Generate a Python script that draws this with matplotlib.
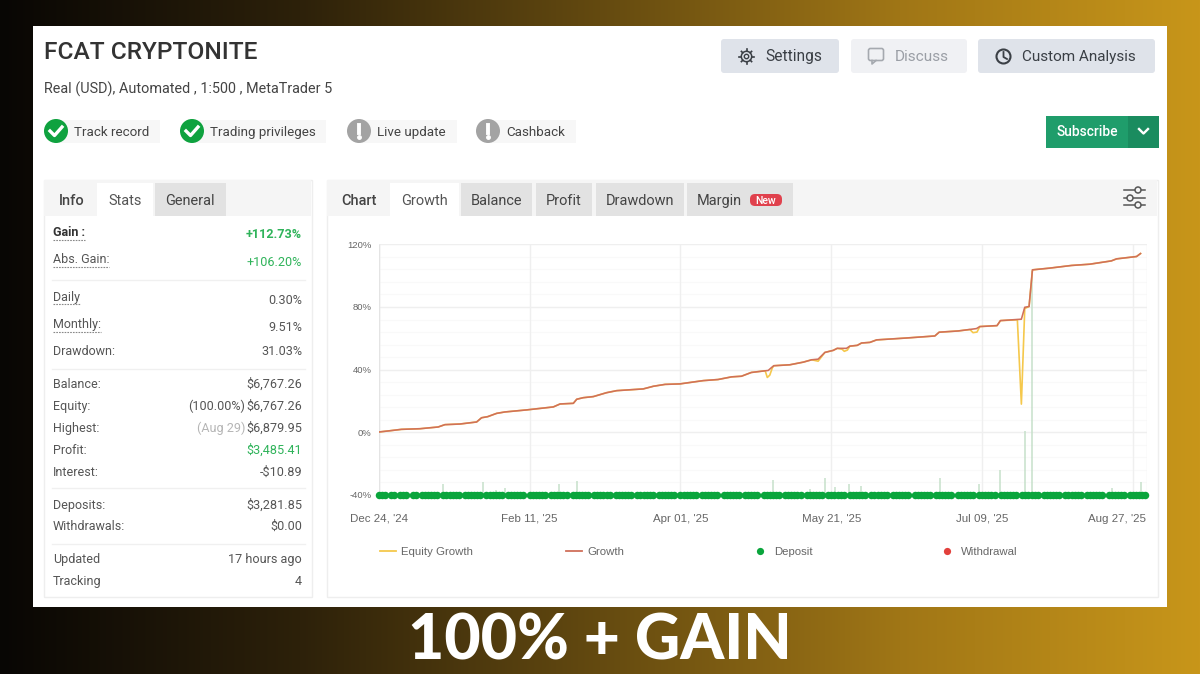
import numpy as np
import matplotlib
matplotlib.use("Agg")
import matplotlib.pyplot as plt
from matplotlib.patches import Rectangle, FancyBboxPatch, Circle
from matplotlib.transforms import ScaledTranslation

# chart data, x in days since Dec 24 '24
growth_days = [0, 3.6, 7.4, 13.4, 19.3, 21.5, 26.4, 31.8, 33.4, 35.4, 38.3, 41, 48, 56.7, 58.9, 63.2, 64.3,
               66.4, 69.7, 74, 77.3, 85.9, 89.2, 93, 97.8, 105.4, 110.2, 114.6, 117.8, 121, 126.5, 127.6,
               128.3, 133.5, 137.9, 140.6, 142.7, 144.9, 147.6, 148.9, 151.9, 153, 155.4, 156.8, 159.5,
               161.7, 171.4, 180.6, 182, 188.2, 194.1, 195.2, 200.8, 201.9, 208.7, 209.8, 211.2, 212.3,
               217.9, 225, 230.9, 237.9, 239.6, 246.1, 247.4]
growth_pct = [0.2, 1, 1.9, 2.3, 3.4, 4.9, 5.3, 6.6, 9.3, 10, 12.1, 13, 14.3, 16.2, 18.1, 18.5, 21.1,
              22.1, 22.8, 25.3, 26.6, 27.7, 29.4, 30.6, 30.9, 33, 33.7, 35.4, 35.8, 38.2, 39.5, 41.4,
              42.5, 43.1, 44.8, 46.3, 46.7, 51, 52.3, 53.6, 53.6, 55, 55.5, 57, 57.4,
              59, 60.2, 61.5, 63.9, 64.7, 66.2, 67.5, 68.1, 71.3, 72.2, 79.8, 80.3, 103.7,
              104.8, 106.5, 107.3, 109.4, 110.7, 112.2, 114.1]

# equity sits on the growth line apart from a few dips
equity_days = [0, 3.6, 7.4, 13.4, 19.3, 21.5, 26.4, 31.8, 33.4, 35.4, 38.3, 41, 48, 56.7, 58.9, 63.2, 64.3,
               66.4, 69.7, 74, 77.3, 85.9, 89.2, 93, 97.8, 105.4, 110.2, 114.6, 117.8, 121, 125.5, 126.2, 127,
               127.8, 128.3, 133.5, 137.9, 140.6, 142.7, 144.9, 147.6, 148.9, 150.5, 151.2, 152.2, 153, 155.4,
               156.8, 159.5, 161.7, 171.4, 180.6, 182, 188.2, 192, 193, 194.3, 195.2, 200.8, 201.9, 207.4,
               208.7, 209.8, 211.2, 212.3, 217.9, 225, 230.9, 237.9, 239.6, 246.1, 247.4]
equity_pct = [0.2, 1, 1.9, 2.3, 3.4, 4.9, 5.3, 6.6, 9.3, 10, 12.1, 13, 14.3, 16.2, 18.1, 18.5, 21.1,
              22.1, 22.8, 25.3, 26.6, 27.7, 29.4, 30.6, 30.9, 33, 33.7, 35.4, 35.8, 38.2, 39.3, 35, 36.5,
              41, 42.5, 43.1, 44.8, 46.3, 45.4, 51, 52.3, 53.6, 53, 51.7, 52.5, 55, 55.5,
              57, 57.4, 59, 60.2, 61.5, 63.9, 64.7, 65.6, 63.6, 64, 67.5, 68.1, 71.3, 71.8,
              18, 79, 80.3, 103.7, 104.8, 106.5, 107.3, 109.4, 110.7, 112.2, 114.1]

bar_days = [21, 33.9, 38, 41, 58.5, 64.4, 128.2, 140, 144.8, 148.2, 152.8, 156.5, 182.2, 194.8, 201.9, 209.9, 212.3, 238, 247.4]
bar_pct = [-33, -32, -36.9, -35.8, -33, -31.1, -30.5, -36.4, -29.4, -34.7, -33.2, -34.1, -29.4, -33, -24, 0.8, 103, -35.8, -31.9]

# days with no deposit marker, these make the pinches in the green band
no_deposit_days = [3, 6, 10, 13, 20, 27, 34, 41, 48, 55, 62, 69, 76, 83, 90, 97, 104, 111, 118, 124, 131, 138,
                   145, 152, 159, 166, 173, 180, 187, 194, 201, 208, 215, 222, 229, 236, 243]
deposit_days = [d for d in range(0, 250) if d not in no_deposit_days]

x_tick_days = [0, 49, 98, 147, 196, 245]
x_tick_labels = ["Dec 24, '24", "Feb 11, '25", "Apr 01, '25", "May 21, '25", "Jul 09, '25", "Aug 27, '25"]
y_ticks = [-40, 0, 40, 80, 120]
y_minor = [-32, -24, -16, -8, 8, 16, 24, 32, 48, 56, 64, 72, 88, 96, 104, 112]

# left panel rows
stat_labels = ["Gain :", "Abs. Gain:", "Daily", "Monthly:", "Drawdown:", "Balance:", "Equity:", "Highest:",
               "Profit:", "Interest:", "Deposits:", "Withdrawals:", "Updated", "Tracking"]
stat_values = ["+112.73%", "+106.20%", "0.30%", "9.51%", "31.03%", "$6,767.26", "$6,767.26", "$6,879.95",
               "$3,485.41", "-$10.89", "$3,281.85", "$0.00", "17 hours ago", "4"]
stat_y = [232, 259, 297, 324, 351, 384, 406, 428, 450, 472, 505, 526, 559, 581]
value_y = [234, 262, 300, 327, 351, 384, 406, 428, 450, 472, 505, 526, 559, 581]
sep_y = [280, 369, 488, 544]

W, H = 1200, 674
plt.rcParams['font.family'] = ['Roboto', 'DejaVu Sans']
fig = plt.figure(figsize=(W / 100, H / 100), dpi=100)

ui = fig.add_axes([0, 0, 1, 1])
ui.set_xlim(0, W)
ui.set_ylim(H, 0)
ui.axis("off")


def fs(px):
    return px * 0.72


def box(x0, y0, x1, y1, color, ec="none", z=1, ax=ui):
    ax.add_patch(Rectangle((x0, y0), x1 - x0, y1 - y0, fc=color, ec=ec, lw=1, zorder=z))


def rbox(x0, y0, x1, y1, color, r=3, z=1):
    ui.add_patch(FancyBboxPatch((x0 + r, y0 + r), x1 - x0 - 2 * r, y1 - y0 - 2 * r,
                                boxstyle="round,pad=%d,rounding_size=%d" % (r, r), fc=color, ec="none", zorder=z))


def txt(x, y, s, px=14, color="#444444", ha="left", weight="normal", **kw):
    # baseline so rows with and without descenders line up
    ui.text(x, y + 0.5 + 0.35 * px, s, fontsize=fs(px), color=color, ha=ha, va="baseline", fontweight=weight, zorder=5, **kw)


# background strip, black to gold
stops = np.array([[8, 6, 4], [45, 33, 10], [100, 74, 16], [160, 118, 22], [200, 150, 26]]) / 255
pos = np.linspace(0, 1, W)
grad = np.stack([np.interp(pos, np.linspace(0, 1, 5), stops[:, i]) for i in range(3)], axis=1)[None, :, :]
ui.imshow(grad, extent=(0, W, H, 0), aspect="auto", zorder=0)
ui.set_xlim(0, W)
ui.set_ylim(H, 0)
box(33, 26, 1167, 607, "white")

txt(44, 49.5, "FCAT CRYPTONITE", px=24.5, color="#333333", weight="medium")
txt(44, 88.5, "Real (USD), Automated , 1:500 , MetaTrader 5", px=14.4, color="#444444")

# top right buttons
rbox(721, 39, 839, 73, "#dfe3ea")
rbox(851, 39, 967, 73, "#f0f1f4")
rbox(978, 39, 1155, 73, "#dfe3ea")
txt(765, 55.5, "Settings", px=15.5, color="#3a3f45")
txt(895, 55.5, "Discuss", px=15.4, color="#9a9ea5")
txt(1022, 55.5, "Custom Analysis", px=15.3, color="#3a3f45")
ui.add_patch(Circle((746.5, 56.5), 5.2, fc="none", ec="#3a3f45", lw=1.1, zorder=5))
ui.add_patch(Circle((746.5, 56.5), 2.2, fc="none", ec="#3a3f45", lw=1, zorder=5))
for a in np.deg2rad([0, 45, 90, 135, 180, 225, 270, 315]):
    ui.plot([746.5 + 5.2 * np.cos(a), 746.5 + 7.2 * np.cos(a)], [56.5 + 5.2 * np.sin(a), 56.5 + 7.2 * np.sin(a)],
            color="#3a3f45", lw=1.2, zorder=5)
ui.add_patch(FancyBboxPatch((870, 50), 12, 9, boxstyle="round,pad=1.5,rounding_size=2", fc="none", ec="#a5a9af", lw=1.2, zorder=5))
ui.plot([872, 872, 876], [60.5, 64, 60.5], color="#a5a9af", lw=1.2, zorder=5)
ui.add_patch(Circle((1003.5, 56.5), 7, fc="none", ec="#3a3f45", lw=1.5, zorder=5))
ui.plot([1003.5, 1003.5, 1007], [52, 57, 59], color="#3a3f45", lw=1.3, zorder=5)

# subscribe
box(1046, 116, 1159, 148, "#1f9d6b")
box(1128, 116, 1159, 148, "#1a8c5f", z=2)
txt(1087, 131, "Subscribe", px=13.7, color="white", ha="center", weight="medium")
ui.plot([1139, 1143.5, 1148], [129, 133.5, 129], color="white", lw=1.7, zorder=5)

# status badges
badge_text = ["Track record", "Trading privileges", "Live update", "Cashback"]
badge_x = [56, 192, 359, 488]
badge_end = [160, 326, 457, 576]
badge_ok = [True, True, False, False]
for t, x, end, ok in zip(badge_text, badge_x, badge_end, badge_ok):
    box(x, 120, end, 143, "#f7f7f7")
    ui.add_patch(Circle((x, 131), 12, fc="#0fa23f" if ok else "#a3a3a3", ec="none", zorder=3))
    if ok:
        ui.plot([x - 6, x - 1.5, x + 6], [131, 135.5, 127], color="white", lw=2.4, zorder=4)
    else:
        ui.plot([x, x], [125, 133], color="white", lw=2.8, zorder=4)
        ui.plot([x], [137], "o", color="white", ms=2.5, zorder=4)
    txt(x + 18, 130.5, t, px=13.4, color="#444444")

# left panel
box(43.5, 179.5, 311.5, 596.5, "white", ec="#eeeeee")
box(44, 180, 311, 216, "#f5f5f5", z=2)
box(97, 183, 153, 217, "white", z=3)
box(155, 183, 226, 216, "#e2e2e2", z=3)
txt(72, 199, "Info", px=14.5, ha="center", weight="medium", color="#444444")
txt(125, 199, "Stats", px=14.5, ha="center", color="#555555")
txt(190, 199, "General", px=14.5, ha="center", color="#444444")

for lab, val, y, vy in zip(stat_labels, stat_values, stat_y, value_y):
    bold = lab.startswith("Gain")
    txt(53, y - 1, lab, px=12.5, weight="bold" if bold else "normal", color="#333333" if bold else "#555555")
    col = "#555555"
    if val.startswith("+") or lab == "Profit:":
        col = "#2fb35a"
    txt(302, vy - 1, val, px=12.6, ha="right", color=col, weight="bold" if bold else "normal")
txt(245, 405, "(100.00%)", px=12.6, ha="right", color="#555555")
txt(245, 427, "(Aug 29)", px=12.6, ha="right", color="#b5b5b5")

for y, x1 in zip([240, 267, 304, 332], [85, 109, 80, 101]):
    ui.plot([53, x1], [y, y], color="#888888", lw=0.8, ls=(0, (1.5, 1)), zorder=4)
for y in sep_y:
    ui.plot([52, 305], [y, y], color="#f0f0f0", lw=1, zorder=2)

# right panel
box(326.5, 179.5, 1158, 596.5, "white", ec="#eeeeee")
box(327, 180, 1157, 216, "#f5f5f5", z=2)
txt(359, 199, "Chart", px=14.5, ha="center", weight="medium", color="#444444")
box(390, 183, 459, 217, "white", z=3)
txt(424, 199, "Growth", px=14.5, ha="center", color="#555555")
for x0, x1, t in [(461, 532, "Balance"), (536, 592, "Profit"), (596, 684, "Drawdown")]:
    box(x0, 183, x1, 216, "#e2e2e2", z=3)
    txt((x0 + x1) / 2, 199, t, px=14.5, ha="center", color="#444444")
box(687, 183, 793, 216, "#e2e2e2", z=3)
txt(697, 199, "Margin", px=14.5, color="#444444")
rbox(750, 194, 782, 206, "#e0414d", r=5, z=4)
txt(766, 199.5, "New", px=10.5, ha="center", color="white", weight="medium")

# filter icon
for y, cx in zip([190, 198, 205], [1138, 1130, 1138]):
    ui.plot([1124, 1145], [y, y], color="#555555", lw=1.1, zorder=4)
    ui.add_patch(Circle((cx, y), 3, fc="#f5f5f5", ec="#555555", lw=1.1, zorder=5))

# growth chart
ax = fig.add_axes([378.7 / W, 1 - 495 / H, (1146.7 - 378.7) / W, (495 - 244.3) / H])
ax.patch.set_alpha(0)
ax.set_zorder(3)
ax.set_xlim(0, 249.4)
ax.set_ylim(-40, 120)
for s in ax.spines.values():
    s.set_visible(False)
ax.hlines(y_minor, 0, 249.4, color="#f9f9f9", lw=0.9, zorder=1)
ax.hlines(y_ticks, 0, 249.4, color="#efefef", lw=1, zorder=1)
ax.vlines(x_tick_days + [249.4], -40, 120, color="#efefef", lw=1, zorder=1)
ax.vlines([0], -40, 120, color="#e4e4e4", lw=1, zorder=1)
ax.vlines(bar_days, -40, bar_pct, color="#c6e0ca", lw=1.1, zorder=2)
ax.plot(equity_days, equity_pct, color="#f5c84c", lw=1.2, zorder=3)
ax.plot(growth_days, growth_pct, color="#d0705a", lw=1.15, zorder=4)
ax.plot(deposit_days, [-40] * len(deposit_days), "o", color="#0aa53c", ms=5.4, mew=0, zorder=5, clip_on=False)

ax.set_yticks(y_ticks, [str(v) + "%" for v in y_ticks], fontsize=fs(9.5), color="#666666", family="Liberation Sans")
ax.set_xticks(x_tick_days, x_tick_labels, fontsize=fs(11.5), color="#666666", family="Liberation Sans")
ax.tick_params(length=0, axis="y", pad=5)
ax.tick_params(length=0, axis="x", pad=13.5)
last = ax.get_xticklabels()[-1]
last.set_transform(last.get_transform() + ScaledTranslation(-16 / 100, 0, fig.dpi_scale_trans))

# legend row
legend_x = [380, 566, 753, 940]
legend_text = ["Equity Growth", "Growth", "Deposit", "Withdrawal"]
legend_col = ["#f5c84c", "#d0705a", "#0aa53c", "#e2403c"]
for i, (x, t, c) in enumerate(zip(legend_x, legend_text, legend_col)):
    if i < 2:
        ui.plot([x, x + 16], [551, 551], color=c, lw=1.3, zorder=5)
    else:
        ui.plot([x + 7], [551], "o", color=c, ms=5.2, mew=0, zorder=5)
    ui.text(x + 21, 552, t, fontsize=fs(11.4), color="#666666", va="center", family="Liberation Sans", zorder=5)

# caption
ui.text(600, 641, "100% + GAIN", fontsize=fs(62.7), color="white", ha="center", va="center", fontweight="black",
        family="Lato", zorder=5)

fig.savefig("out.png", dpi=100)
